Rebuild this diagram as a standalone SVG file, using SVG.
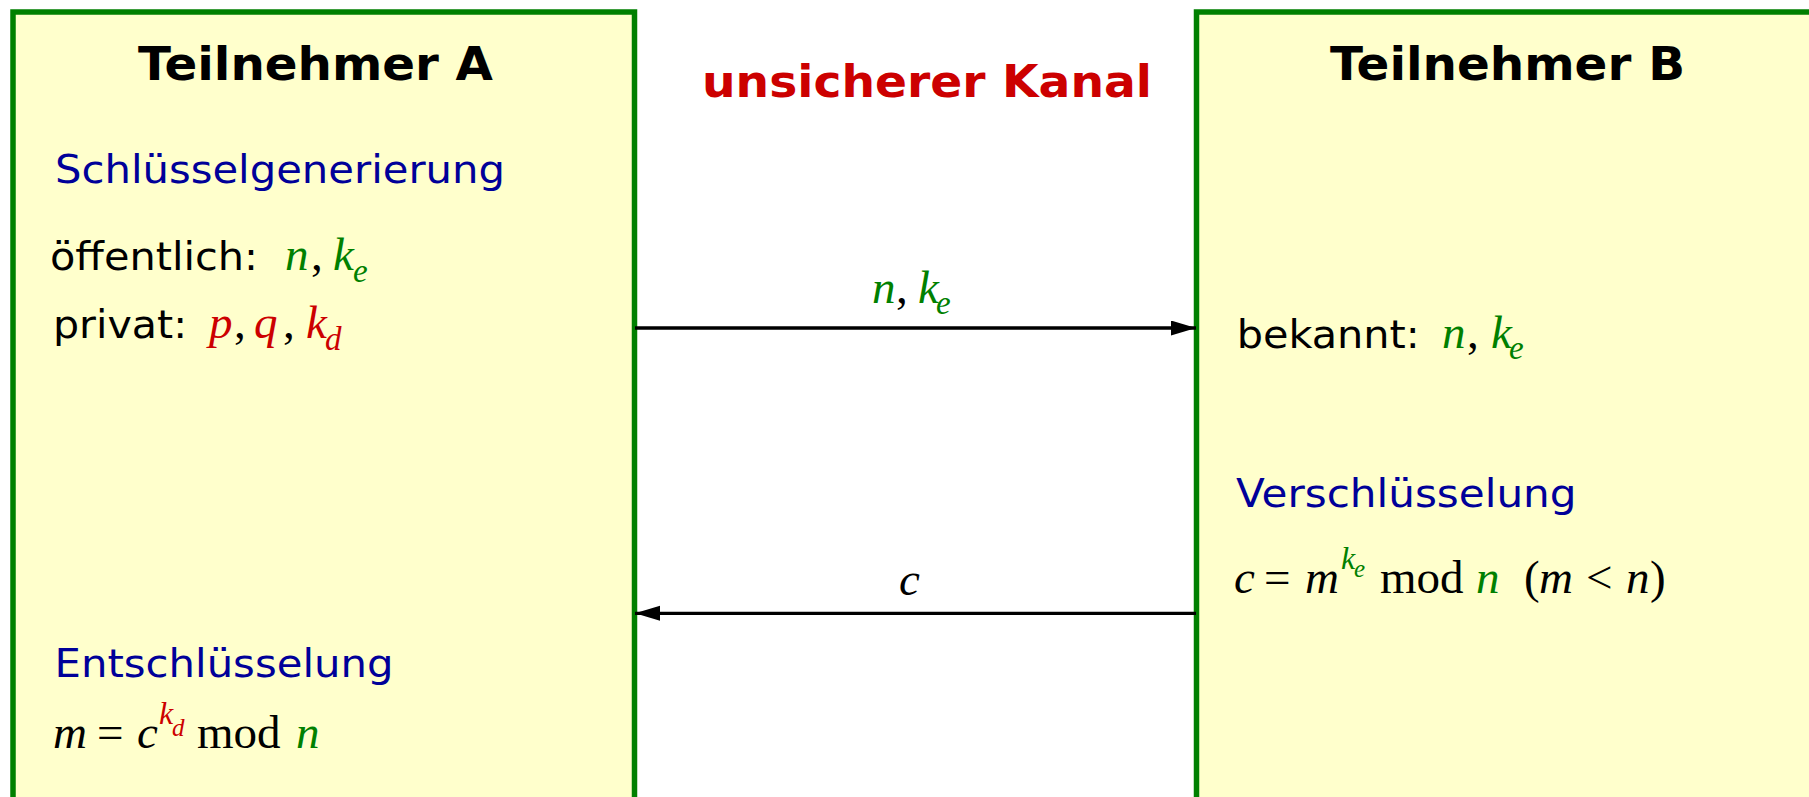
<svg xmlns="http://www.w3.org/2000/svg" width="1809" height="797" viewBox="0 0 1809 797">
<defs>
<style>
.box{fill:#FFFFCC;stroke:#008000;stroke-width:5.5}
.hd{font-family:"DejaVu Sans",Verdana,sans-serif;font-weight:bold;font-size:45.5px;fill:#000}
.ch{font-family:"DejaVu Sans",Verdana,sans-serif;font-weight:bold;font-size:44px;fill:#CC0000}
.sec{font-family:"DejaVu Sans",Verdana,sans-serif;font-size:39px;fill:#000099}
.tx{font-family:"DejaVu Sans",Verdana,sans-serif;font-size:39px;fill:#000}
.mi{font-family:"Liberation Serif","Times New Roman",serif;font-style:italic;font-size:47px}
.mr{font-family:"Liberation Serif","Times New Roman",serif;font-size:47px;fill:#000}
.sub{font-family:"Liberation Serif","Times New Roman",serif;font-style:italic;font-size:33px}
.sup{font-family:"Liberation Serif","Times New Roman",serif;font-style:italic;font-size:32px}
.sub2{font-family:"Liberation Serif","Times New Roman",serif;font-style:italic;font-size:25px}
.g{fill:#008000}
.r{fill:#CC0000}
.k{fill:#000}
.conn{stroke:#000;stroke-width:3.3;fill:none}
</style>
<marker id="ah" markerUnits="userSpaceOnUse" markerWidth="26" markerHeight="16" refX="25" refY="7.5" orient="auto">
<path d="M0,0 L25,7.5 L0,15 z" fill="#000"/>
</marker>
</defs>

<g id="teilnehmerA">
<rect class="box" x="13" y="12" width="621.5" height="810"/>
<text class="hd" x="138" y="80" textLength="355" lengthAdjust="spacingAndGlyphs">Teilnehmer A</text>
<text class="sec" x="55" y="183.3" textLength="450" lengthAdjust="spacingAndGlyphs">Schlüsselgenerierung</text>
<text class="tx" x="50" y="270" textLength="208" lengthAdjust="spacingAndGlyphs">öffentlich:</text>
<text class="mi g" x="285" y="270">n</text>
<text class="mr" x="311" y="270">,</text>
<text class="mi g" x="333" y="270">k</text>
<text class="sub g" x="353" y="282">e</text>
<text class="tx" x="53" y="338.3" textLength="134" lengthAdjust="spacingAndGlyphs">privat:</text>
<text class="mi r" x="209" y="338.3">p</text>
<text class="mr" x="234" y="338.3">,</text>
<text class="mi r" x="254" y="338.3">q</text>
<text class="mr" x="283" y="338.3">,</text>
<text class="mi r" x="306" y="338.3">k</text>
<text class="sub r" x="325" y="350">d</text>
<text class="sec" x="54.5" y="676.7" textLength="339" lengthAdjust="spacingAndGlyphs">Entschlüsselung</text>
<text class="mi k" x="53" y="748.3">m</text>
<text class="mr" x="97" y="748.3">=</text>
<text class="mi k" x="137" y="748.3">c</text>
<text class="sup r" x="159" y="724">k</text>
<text class="sub2 r" x="172" y="736">d</text>
<text class="mr" x="197" y="748.3">mod</text>
<text class="mi g" x="296" y="748.3">n</text>
</g>

<g id="kanal">
<text class="ch" x="702" y="97.3" textLength="450" lengthAdjust="spacingAndGlyphs">unsicherer Kanal</text>
</g>

<g id="teilnehmerB">
<rect class="box" x="1196.5" y="12" width="700" height="810"/>
<text class="hd" x="1330" y="80" textLength="355" lengthAdjust="spacingAndGlyphs">Teilnehmer B</text>
<text class="tx" x="1236.7" y="348.3" textLength="183" lengthAdjust="spacingAndGlyphs">bekannt:</text>
<text class="mi g" x="1442" y="348.3">n</text>
<text class="mr" x="1467" y="348.3">,</text>
<text class="mi g" x="1491" y="348.3">k</text>
<text class="sub g" x="1509" y="358.5">e</text>
<text class="sec" x="1236" y="506.7" textLength="340.5" lengthAdjust="spacingAndGlyphs">Verschlüsselung</text>
<text class="mi k" x="1234" y="593.3">c</text>
<text class="mr" x="1264" y="593.3">=</text>
<text class="mi k" x="1305" y="593.3">m</text>
<text class="sup g" x="1341" y="569">k</text>
<text class="sub2 g" x="1354" y="577">e</text>
<text class="mr" x="1380" y="593.3">mod</text>
<text class="mi g" x="1476" y="593.3">n</text>
<text class="mr" x="1524" y="593.3">(</text>
<text class="mi k" x="1539" y="593.3">m</text>
<text class="mr" x="1586" y="593.3">&lt;</text>
<text class="mi k" x="1626" y="593.3">n</text>
<text class="mr" x="1650" y="593.3">)</text>
</g>

<g id="connectors">
<line class="conn" x1="635" y1="328" x2="1196" y2="328" marker-end="url(#ah)"/>
<text class="mi g" x="872" y="303.3">n</text>
<text class="mr" x="896" y="303.3">,</text>
<text class="mi g" x="918" y="303.3">k</text>
<text class="sub g" x="936" y="313.5">e</text>
<line class="conn" x1="1196" y1="613.3" x2="635" y2="613.3" marker-end="url(#ah)"/>
<text class="mi k" x="899" y="595">c</text>
</g>
</svg>
